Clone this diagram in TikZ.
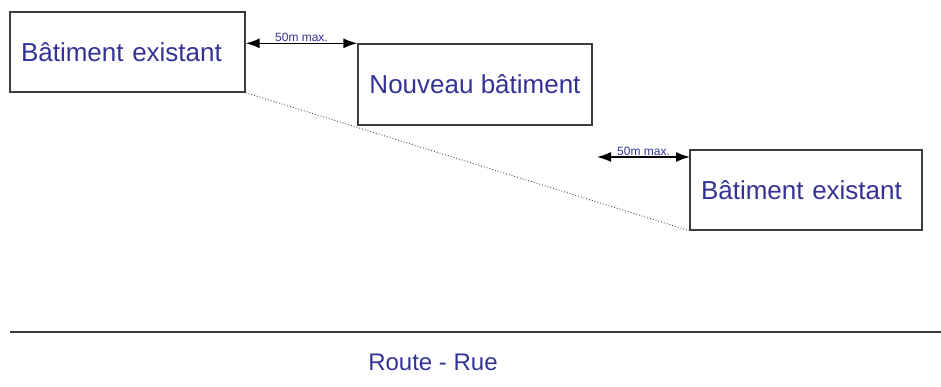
\documentclass[tikz,border=0pt]{standalone}
\usepackage{fontspec}
\setmainfont{Liberation Sans}
\usetikzlibrary{arrows.meta,calc}
\definecolor{txtblue}{RGB}{51,51,150}
\definecolor{edge}{RGB}{60,60,60}
\begin{document}
\begin{tikzpicture}[x=1pt,y=-1pt,
  building/.style={draw=edge,line width=1.4pt,fill=white,inner sep=0pt,
    font=\fontsize{26}{30}\selectfont,text=txtblue},
  dim/.style={line width=1.4pt,{Latex[length=14pt,width=10pt]}-{Latex[length=14pt,width=10pt]}},
  dimlabel/.style={font=\fontsize{12}{14}\selectfont,text=txtblue,inner sep=1pt,anchor=south},
  sightline/.style={dotted,draw=black!70,line width=0.9pt}]
\useasboundingbox (0,0) rectangle (941,387);
\node[building,minimum width=235pt,minimum height=80pt,text width=235pt,align=left] (b1) at (127.5,52) {\hspace*{11pt}Bâtiment existant};
\node[building,minimum width=234pt,minimum height=81pt] (b2) at (475,84.5) {Nouveau bâtiment};
\node[building,minimum width=232pt,minimum height=80pt,text width=232pt,align=left] (b3) at (806,190) {\hspace*{11pt}Bâtiment existant};
\draw[sightline] (b1.south east) -- (b3.south west);
\coordinate (a1s) at (b2.north west -| b1.east);
\draw[dim] (a1s) -- (b2.north west) node[dimlabel,midway,above=0pt] {50m max.};
\coordinate (a2s) at (597,157);
\coordinate (a2e) at (690,157);
\draw[dim] (a2s) -- (a2e) node[dimlabel,midway,above=0pt] {50m max.};
\coordinate (r1) at (10,332);
\coordinate (r2) at (941,332);
\draw[draw=edge,line width=1.8pt] (r1) -- (r2);
\node[font=\fontsize{24}{28}\selectfont,text=txtblue] (road) at (433,362) {Route - Rue};
\end{tikzpicture}
\end{document}
